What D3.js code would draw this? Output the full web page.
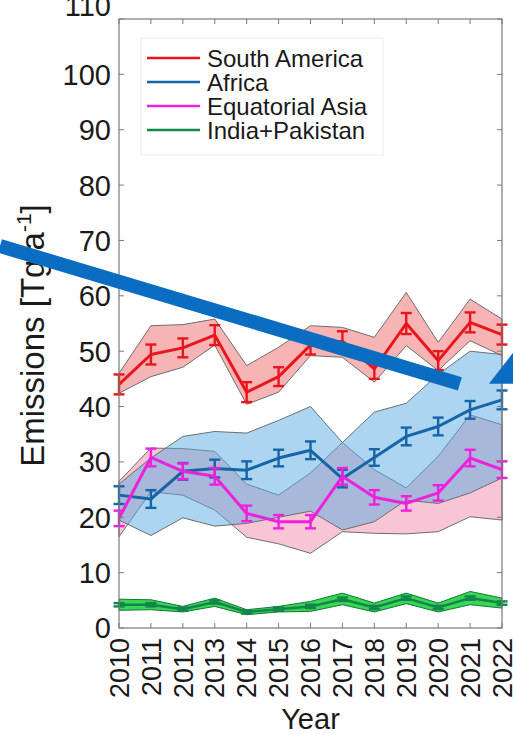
<!DOCTYPE html>
<html>
<head>
<meta charset="utf-8">
<script src="https://cdn.jsdelivr.net/npm/d3@7"></script>
<style>
  body { margin: 0; background: #fff; }
</style>
</head>
<body>
<div id="chart"></div>
<script>
// Data (Tg a^-1)
const years = [2010, 2011, 2012, 2013, 2014, 2015, 2016, 2017, 2018, 2019, 2020, 2021, 2022];

const saMean = [44.0, 49.4, 50.6, 52.9, 42.6, 45.4, 51.1, 51.8, 46.8, 55.0, 48.3, 55.2, 53.0];
const saErr  = [1.8, 1.8, 1.7, 1.8, 1.8, 1.7, 1.7, 1.8, 1.8, 1.9, 1.7, 1.8, 1.8];
const saLow  = [42.4, 45.4, 47.1, 51.1, 40.4, 42.6, 49.2, 48.9, 44.4, 51.0, 46.5, 51.9, 49.2];
const saHigh = [46.0, 54.6, 54.8, 55.8, 47.4, 50.7, 54.6, 54.3, 52.5, 60.6, 51.6, 59.4, 55.8];

const afMean = [24.0, 23.3, 28.3, 28.8, 28.5, 30.7, 32.1, 27.0, 30.8, 34.6, 36.4, 39.4, 41.2];
const afErr  = [1.6, 1.6, 1.5, 1.6, 1.6, 1.5, 1.6, 1.6, 1.5, 1.6, 1.6, 1.6, 1.7];
const afLow  = [19.5, 16.7, 19.9, 18.4, 18.9, 20.0, 21.1, 17.7, 19.2, 23.1, 22.5, 24.4, 27.1];
const afHigh = [26.0, 30.7, 34.6, 35.5, 35.2, 37.5, 40.0, 33.5, 39.0, 40.6, 45.8, 50.0, 49.4];

const eaMean = [19.8, 30.8, 28.3, 27.4, 20.7, 19.2, 19.2, 27.4, 23.6, 22.5, 24.4, 30.7, 28.6];
const eaErr  = [1.4, 1.6, 1.4, 1.5, 1.4, 1.2, 1.2, 1.5, 1.3, 1.3, 1.4, 1.5, 1.5];
const eaLow  = [16.5, 24.6, 24.0, 21.3, 16.4, 15.2, 13.5, 17.4, 17.1, 17.0, 17.4, 20.1, 19.5];
const eaHigh = [26.5, 32.5, 32.4, 31.9, 26.0, 24.0, 28.0, 33.5, 28.6, 25.3, 31.0, 38.5, 36.7];

const ipMean = [4.2, 4.2, 3.4, 4.7, 2.9, 3.4, 3.9, 5.2, 3.7, 5.4, 3.7, 5.4, 4.5];
const ipErr  = [0.3, 0.3, 0.3, 0.3, 0.3, 0.3, 0.3, 0.3, 0.3, 0.3, 0.3, 0.3, 0.3];
const ipLow  = [3.2, 3.3, 2.9, 3.9, 2.4, 2.9, 3.0, 4.2, 2.9, 4.4, 2.9, 4.2, 3.6];
const ipHigh = [5.2, 5.1, 3.9, 5.4, 3.3, 3.9, 4.8, 6.3, 4.5, 6.3, 4.5, 6.6, 5.4];

const yTicks = [0, 10, 20, 30, 40, 50, 60, 70, 80, 90, 100, 110];
const legendNames = ["South America", "Africa", "Equatorial Asia", "India+Pakistan"];
const legendColors = ["#e8161c", "#1665a6", "#ee20dc", "#13864a"];

// Overlay arrow drawn on the figure, in data units [year, value]
const arrowLine = [[2006.27, 69.0], [2020.68, 44.1]];
const arrowHead = [[2021.59, 44.1], [2022.45, 50.5], [2022.45, 44.1]];

const W = 513, H = 734;
const font = "'Liberation Sans', Arial, Helvetica, sans-serif";

const svg = d3.select("#chart")
    .append("svg")
    .attr("width", W)
    .attr("height", H)
    .style("font-family", font);

const x = d3.scaleLinear().domain([2010, 2022]).range([119, 502]);
const y = d3.scaleLinear().domain([0, 110]).range([628, 19]);

// Uncertainty bands
function drawBand(low, high, fill, opacity, stroke) {
    const area = d3.area()
        .x((d, i) => x(years[i]))
        .y0((d, i) => y(low[i]))
        .y1((d, i) => y(high[i]));
    svg.append("path")
        .datum(years)
        .attr("d", area)
        .attr("fill", fill)
        .attr("fill-opacity", opacity)
        .attr("stroke", stroke)
        .attr("stroke-width", 1)
        .attr("stroke-linejoin", "round");
}

drawBand(saLow, saHigh, "#ee6a6c", 0.5, "#6e6e6e");
drawBand(eaLow, eaHigh, "#f08cac", 0.5, "#6e6e6e");
drawBand(afLow, afHigh, "#57abe1", 0.5, "#6e6e6e");
drawBand(ipLow, ipHigh, "#22d044", 0.9, "#137a34");

// Mean lines with error bars
function drawSeries(mean, err, color, lw) {
    const line = d3.line()
        .x((d, i) => x(years[i]))
        .y(d => y(d));
    svg.append("path")
        .datum(mean)
        .attr("d", line)
        .attr("fill", "none")
        .attr("stroke", color)
        .attr("stroke-width", lw)
        .attr("stroke-linejoin", "round");

    const g = svg.append("g")
        .attr("stroke", color)
        .attr("stroke-width", 2.4);
    mean.forEach((m, i) => {
        const cx = x(years[i]);
        const top = y(m + err[i]), bot = y(m - err[i]);
        g.append("line").attr("x1", cx).attr("x2", cx).attr("y1", top).attr("y2", bot);
        g.append("line").attr("x1", cx - 5.5).attr("x2", cx + 5.5).attr("y1", top).attr("y2", top);
        g.append("line").attr("x1", cx - 5.5).attr("x2", cx + 5.5).attr("y1", bot).attr("y2", bot);
    });
}

drawSeries(saMean, saErr, legendColors[0], 3);
drawSeries(afMean, afErr, legendColors[1], 3);
drawSeries(eaMean, eaErr, legendColors[2], 3);
drawSeries(ipMean, ipErr, legendColors[3], 2.5);

// Axes box and inward ticks
const axisColor = "#7a7a7a";
svg.append("rect")
    .attr("x", x(2010)).attr("y", y(110))
    .attr("width", x(2022) - x(2010)).attr("height", y(0) - y(110))
    .attr("fill", "none").attr("stroke", axisColor).attr("stroke-width", 1.2);

const tickLen = 5;
yTicks.forEach(t => {
    svg.append("line").attr("x1", x(2010)).attr("x2", x(2010) + tickLen)
        .attr("y1", y(t)).attr("y2", y(t)).attr("stroke", axisColor);
    svg.append("line").attr("x1", x(2022)).attr("x2", x(2022) - tickLen)
        .attr("y1", y(t)).attr("y2", y(t)).attr("stroke", axisColor);
});
years.forEach(yr => {
    svg.append("line").attr("x1", x(yr)).attr("x2", x(yr))
        .attr("y1", y(0)).attr("y2", y(0) - tickLen).attr("stroke", axisColor);
    svg.append("line").attr("x1", x(yr)).attr("x2", x(yr))
        .attr("y1", y(110)).attr("y2", y(110) + tickLen).attr("stroke", axisColor);
});

// Tick labels (the top one is clipped by the picture edge, as in the figure)
svg.append("g")
    .selectAll("text")
    .data(yTicks)
    .join("text")
    .attr("x", x(2010) - 8)
    .attr("y", d => d === 110 ? y(d) - 3 : y(d))
    .attr("dy", d => d === 110 ? "0" : "0.36em")
    .attr("text-anchor", "end")
    .attr("font-size", 29)
    .attr("fill", "#1a1a1a")
    .text(d => d);

svg.append("g")
    .selectAll("text")
    .data(years)
    .join("text")
    .attr("transform", d => `translate(${x(d)},${y(0) + 10}) rotate(-90)`)
    .attr("dy", "0.36em")
    .attr("text-anchor", "end")
    .attr("font-size", 27)
    .attr("fill", "#1a1a1a")
    .text(d => d);

// Axis titles
svg.append("text")
    .attr("x", (x(2010) + x(2022)) / 2)
    .attr("y", 729)
    .attr("text-anchor", "middle")
    .attr("font-size", 29)
    .attr("fill", "#1a1a1a")
    .text("Year");

const yl = svg.append("text")
    .attr("transform", `translate(44,${(y(0) + y(110)) / 2 + 12}) rotate(-90)`)
    .attr("text-anchor", "middle")
    .attr("font-size", 33)
    .attr("fill", "#1a1a1a");
yl.append("tspan").text("Emissions [Tg a");
yl.append("tspan").attr("font-size", 21).attr("dy", -13).text("-1");
yl.append("tspan").attr("dy", 13).text("]");

// Legend
const lg = svg.append("g");
lg.append("rect")
    .attr("x", 141).attr("y", 38).attr("width", 242).attr("height", 117)
    .attr("fill", "#fff").attr("stroke", "#ececec");
legendNames.forEach((name, i) => {
    const ly = 58 + i * 24;
    lg.append("line").attr("x1", 147).attr("x2", 200).attr("y1", ly).attr("y2", ly)
        .attr("stroke", legendColors[i]).attr("stroke-width", 2.4);
    lg.append("text").attr("x", 207).attr("y", ly).attr("dy", "0.36em")
        .attr("font-size", 24).attr("fill", "#1a1a1a").text(name);
});

// Blue arrow overlay
svg.append("line")
    .attr("x1", x(arrowLine[0][0])).attr("y1", y(arrowLine[0][1]))
    .attr("x2", x(arrowLine[1][0])).attr("y2", y(arrowLine[1][1]))
    .attr("stroke", "#0b6dc2").attr("stroke-width", 14);
svg.append("polygon")
    .attr("points", arrowHead.map(p => [x(p[0]), y(p[1])].join(",")).join(" "))
    .attr("fill", "#0b6dc2");
</script>
</body>
</html>
